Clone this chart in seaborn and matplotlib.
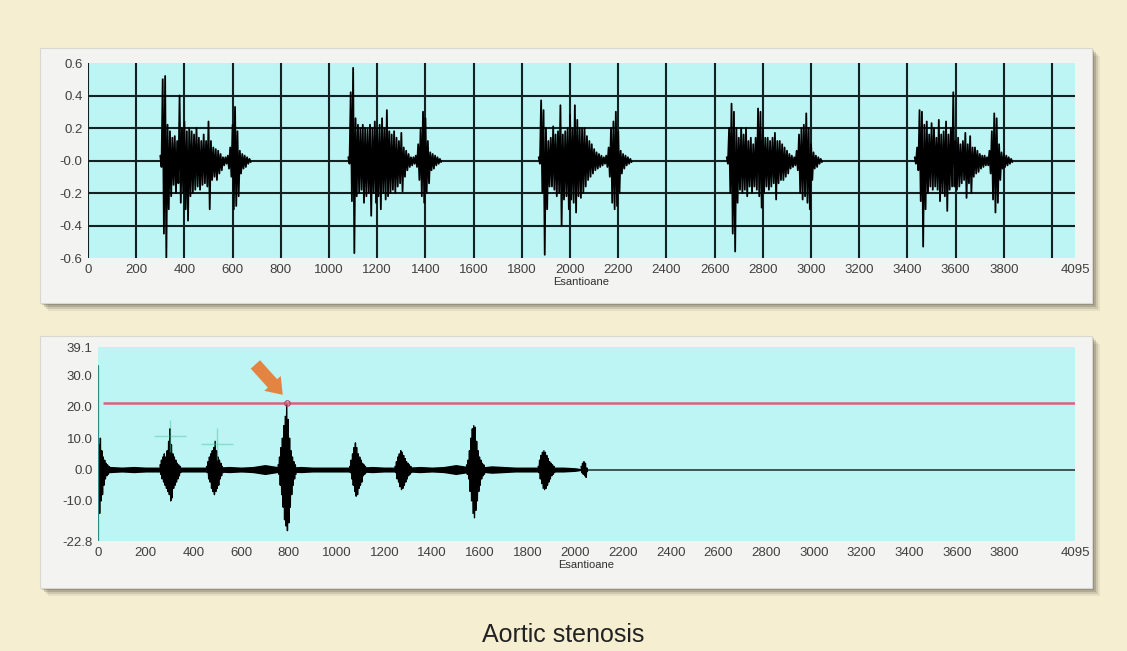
import numpy as np
import matplotlib
matplotlib.use("Agg")
import matplotlib.pyplot as plt
import seaborn as sns
from matplotlib.patches import Rectangle

# ---- top trace (phonocardiogram), excursions read every 10 samples ----
c1_start = 300
c1_hi = [0.03, 0.50, 0.52, 0.22, 0.18, 0.14, 0.15, 0.12, 0.40, 0.20, 0.24, 0.18, 0.20, 0.18, 0.16, 0.20, 0.14, 0.12, 0.16,
         0.12, 0.24, 0.12, 0.08, 0.07, 0.06, 0.04, 0.02, 0.02, 0.03, 0.08, 0.22, 0.33, 0.18, 0.06, 0.04, 0.03, 0.02, 0.01]
c1_lo = [-0.04, -0.45, -0.60, -0.30, -0.22, -0.15, -0.20, -0.14, -0.26, -0.20, -0.30, -0.37, -0.22, -0.20, -0.18, -0.16,
         -0.18, -0.15, -0.14, -0.16, -0.30, -0.12, -0.10, -0.12, -0.08, -0.06, -0.03, -0.02, -0.05, -0.10, -0.30, -0.28,
         -0.22, -0.08, -0.05, -0.04, -0.02, -0.01]

c2_start = 1080
c2_hi = [0.02, 0.42, 0.57, 0.26, 0.22, 0.20, 0.22, 0.20, 0.19, 0.22, 0.20, 0.24, 0.20, 0.22, 0.26, 0.20, 0.31, 0.18, 0.16,
         0.18, 0.14, 0.12, 0.17, 0.08, 0.06, 0.04, 0.02, 0.02, 0.03, 0.10, 0.20, 0.30, 0.26, 0.12, 0.05, 0.04, 0.03, 0.02, 0.01]
c2_lo = [-0.02, -0.25, -0.57, -0.22, -0.20, -0.18, -0.26, -0.22, -0.20, -0.34, -0.20, -0.26, -0.22, -0.30, -0.20, -0.24,
         -0.22, -0.20, -0.18, -0.20, -0.16, -0.14, -0.19, -0.10, -0.06, -0.04, -0.03, -0.02, -0.04, -0.12, -0.22, -0.26,
         -0.20, -0.14, -0.06, -0.05, -0.03, -0.02, -0.01]

c3_start = 1870
c3_hi = [0.02, 0.37, 0.31, 0.20, 0.12, 0.14, 0.21, 0.16, 0.18, 0.34, 0.16, 0.18, 0.20, 0.28, 0.20, 0.34, 0.25, 0.20, 0.20,
         0.20, 0.15, 0.12, 0.10, 0.07, 0.05, 0.04, 0.03, 0.02, 0.03, 0.08, 0.20, 0.24, 0.30, 0.18, 0.06, 0.04, 0.03, 0.02, 0.01]
c3_lo = [-0.02, -0.20, -0.58, -0.30, -0.16, -0.16, -0.18, -0.22, -0.20, -0.40, -0.24, -0.22, -0.30, -0.24, -0.26, -0.32,
         -0.22, -0.23, -0.20, -0.16, -0.12, -0.10, -0.08, -0.06, -0.05, -0.04, -0.03, -0.02, -0.04, -0.10, -0.26, -0.30,
         -0.28, -0.20, -0.08, -0.05, -0.03, -0.02, -0.01]

c4_start = 2650
c4_hi = [0.02, 0.20, 0.35, 0.30, 0.20, 0.14, 0.20, 0.16, 0.20, 0.12, 0.14, 0.10, 0.14, 0.32, 0.30, 0.20, 0.14, 0.14, 0.12,
         0.14, 0.17, 0.12, 0.12, 0.10, 0.08, 0.06, 0.04, 0.03, 0.02, 0.06, 0.16, 0.20, 0.22, 0.29, 0.20, 0.10, 0.05, 0.03,
         0.02, 0.01]
c4_lo = [-0.02, -0.20, -0.45, -0.56, -0.26, -0.18, -0.20, -0.18, -0.22, -0.16, -0.20, -0.16, -0.18, -0.22, -0.29, -0.20,
         -0.16, -0.18, -0.16, -0.14, -0.24, -0.14, -0.12, -0.12, -0.10, -0.08, -0.05, -0.04, -0.03, -0.06, -0.20, -0.24,
         -0.22, -0.26, -0.30, -0.12, -0.05, -0.04, -0.02, -0.01]

c5_start = 3430
c5_hi = [0.02, 0.08, 0.31, 0.30, 0.22, 0.24, 0.16, 0.23, 0.20, 0.14, 0.25, 0.16, 0.18, 0.24, 0.16, 0.20, 0.42, 0.12, 0.14,
         0.10, 0.12, 0.17, 0.10, 0.15, 0.08, 0.08, 0.06, 0.04, 0.03, 0.03, 0.02, 0.06, 0.18, 0.29, 0.26, 0.10, 0.05, 0.04,
         0.03, 0.02, 0.01]
c5_lo = [-0.02, -0.06, -0.25, -0.53, -0.30, -0.20, -0.16, -0.18, -0.16, -0.18, -0.25, -0.20, -0.22, -0.31, -0.18, -0.16,
         -0.16, -0.18, -0.16, -0.14, -0.12, -0.23, -0.14, -0.20, -0.10, -0.08, -0.07, -0.05, -0.04, -0.03, -0.03, -0.08,
         -0.24, -0.32, -0.26, -0.12, -0.05, -0.04, -0.03, -0.02, -0.01]

top_cycles = [(c1_start, c1_hi, c1_lo), (c2_start, c2_hi, c2_lo), (c3_start, c3_hi, c3_lo),
              (c4_start, c4_hi, c4_lo), (c5_start, c5_hi, c5_lo)]

# ---- bottom trace (energy envelope), bursts read every 6 samples ----
b_bursts = [
    (4, [8, 10, 6, 4, 3, 2, 1.5, 1], [-14, -10, -8, -5, -3, -2, -1.5, -1]),
    (260, [1.5, 3, 4, 5, 4, 6, 9, 13, 8, 5, 4, 3, 2, 1.5, 1], [-1.5, -3, -4, -5, -6, -7, -8, -10, -9, -6, -5, -4, -3, -2, -1]),
    (455, [1, 2.5, 4, 5, 6, 7, 9, 6, 4, 3, 2, 1], [-1, -3, -4, -6, -7, -8, -7, -6, -5, -3, -2, -1]),
    (755, [1.5, 4, 7, 10, 14, 17, 21.2, 16, 10, 6, 4, 2.5, 1.5], [-1.5, -5, -8, -12, -16, -18, -19.5, -17, -12, -8, -5, -3, -1.5]),
    (1055, [1, 3, 5, 7, 8.5, 7, 5, 4, 3, 2, 1.5, 1], [-1, -3, -5, -7, -8.5, -8, -6, -5, -4, -2, -1.5, -1]),
    (1245, [1, 2.5, 4, 5, 6, 5.5, 4.5, 3.5, 2.5, 2, 1.5, 1], [-1, -3, -4, -5.5, -6.4, -6, -5, -4, -3, -2, -1.5, -1]),
    (1545, [1.5, 3, 6, 10, 13, 14, 13.5, 9, 6, 4, 3, 2, 1.5], [-1.5, -3, -7, -10, -14, -15.4, -13, -10, -7, -5, -3, -2, -1.5]),
    (1845, [1, 3, 4.5, 5.5, 6, 5.5, 4.5, 3.5, 2.5, 2, 1.5, 1], [-1, -3, -4.5, -6, -6.4, -6, -5, -4, -3, -2, -1.5, -1]),
    (2025, [1, 2, 2.5, 2, 0.5], [-1, -1.5, -2, -2.5, -0.5]),
]
first_spike_x = 2
first_spike = [33.0, -22.8]
# noise floor amplitude, every 50 samples from 0 to 2050
noise_amp = [1.0, 1.0, 0.8, 1.0, 0.8, 0.8, 0.8, 0.8, 0.8, 0.8, 0.8, 1.0, 0.8, 1.0, 1.6, 1.0, 0.8, 1.0, 0.8, 0.8, 0.8,
             0.8, 0.8, 1.0, 0.8, 0.8, 0.8, 1.0, 0.8, 1.0, 1.6, 1.0, 0.8, 1.2, 1.0, 0.8, 0.8, 0.8, 0.8, 0.8, 0.6, 0.0]
threshold = 21.2
peak_x = 792
markers_x = [303, 499]
markers_y = [10.6, 8.0]

x_ticks = list(range(0, 3801, 200)) + [4095]
x_grid = list(range(0, 4001, 200))
top_yticks = [0.6, 0.4, 0.2, 0.0, -0.2, -0.4, -0.6]
top_ylabels = ["0.6", "0.4", "0.2", "-0.0", "-0.2", "-0.4", "-0.6"]
top_ygrid = [0.4, 0.2, 0.0, -0.2, -0.4]
bot_yticks = [39.1, 30.0, 20.0, 10.0, 0.0, -10.0, -22.8]
bot_ylabels = ["39.1", "30.0", "20.0", "10.0", "0.0", "-10.0", "-22.8"]


def zigzag(start, step, hi, lo):
    s = start + step * np.arange(len(hi))
    x = np.column_stack([s, s + step / 2]).ravel()
    y = np.column_stack([hi, lo]).ravel()
    return x, y


sns.set_style("white")
plt.rcParams['font.family'] = ['Liberation Sans', 'DejaVu Sans']

W, H = 1127, 651
fig = plt.figure(figsize=(W / 100, H / 100), dpi=100, facecolor='#f6eed0')


def box(x0, y0, x1, y1):
    return [x0 / W, 1 - y1 / H, (x1 - x0) / W, (y1 - y0) / H]


# panels with drop shadow
for (x0, y0, x1, y1) in [(40, 48, 1092, 303), (40, 336, 1092, 588)]:
    for k, a in [(8, 0.08), (6, 0.14), (4, 0.2), (2, 0.25)]:
        b = box(x0 + k, y0 + k, x1 + k, y1 + k)
        fig.add_artist(Rectangle((b[0], b[1]), b[2], b[3], transform=fig.transFigure,
                                 color='#3a3a30', alpha=a, lw=0, zorder=-3))
    b = box(x0, y0, x1, y1)
    fig.add_artist(Rectangle((b[0], b[1]), b[2], b[3], transform=fig.transFigure,
                             facecolor='#f3f3f1', edgecolor='#d8d8d0', lw=0.8, zorder=-2))

cyan = '#bdf4f4'
grid_c = '#102222'
tick_c = '#404040'

# ---- top axes ----
ax1 = fig.add_axes(box(88, 63, 1075, 258))
ax1.set_facecolor(cyan)
for gx in x_grid:
    ax1.axvline(gx, color=grid_c, lw=1.5, zorder=1)
for gy in top_ygrid:
    ax1.axhline(gy, color=grid_c, lw=1.5, zorder=1)
for start, hi, lo in top_cycles:
    x, y = zigzag(start, 10, hi, lo)
    sns.lineplot(x=x, y=y, ax=ax1, sort=False, estimator=None, color='black', lw=1.3, zorder=3)
ax1.set_xlim(0, 4095)
ax1.set_ylim(-0.6, 0.6)
ax1.set_xticks(x_ticks)
ax1.set_xticklabels([str(v) for v in x_ticks])
ax1.set_yticks(top_yticks)
ax1.set_yticklabels(top_ylabels)
ax1.set_xlabel("Esantioane", fontsize=8, color='#303030', labelpad=1)

# ---- bottom axes ----
ax2 = fig.add_axes(box(98, 347, 1075, 541))
ax2.set_facecolor(cyan)
ax2.axhline(0, color='#1a2a2a', lw=1.1, zorder=2)
noise_x = np.arange(0, 2051, 50)
ax2.fill_between(noise_x, -np.array(noise_amp), noise_amp, color='black', lw=0, zorder=3)
for start, hi, lo in b_bursts:
    x, y = zigzag(start, 6, hi, lo)
    sns.lineplot(x=x, y=y, ax=ax2, sort=False, estimator=None, color='black', lw=1.0, zorder=3)
ax2.plot([first_spike_x, first_spike_x], first_spike, color='#2a8a8a', lw=1.6, zorder=4)
ax2.hlines(threshold, 20, 4095, color='#e0607a', lw=1.8, zorder=4)
ax2.plot([peak_x], [threshold], marker='o', ms=4, mfc='none', mec='#b04060', mew=0.8, zorder=5)
sns.scatterplot(x=markers_x, y=markers_y, ax=ax2, marker='+', s=500, color='#50c8a0',
                alpha=0.5, linewidth=1.0, zorder=5)
ax2.annotate('', xy=(peak_x - 10, threshold + 2.0), xytext=(peak_x - 140, threshold + 13),
             arrowprops=dict(arrowstyle='simple,head_width=1.6,head_length=1.1,tail_width=0.9',
                             color='#e8782e', alpha=0.9, lw=0), zorder=6)
ax2.set_xlim(0, 4095)
ax2.set_ylim(-22.8, 39.1)
ax2.set_xticks(x_ticks)
ax2.set_xticklabels([str(v) for v in x_ticks])
ax2.set_yticks(bot_yticks)
ax2.set_yticklabels(bot_ylabels)
ax2.set_xlabel("Esantioane", fontsize=8, color='#303030', labelpad=1)

for ax in (ax1, ax2):
    for sp in ax.spines.values():
        sp.set_visible(False)
    ax.tick_params(axis='both', labelsize=9.5, colors=tick_c, length=3, width=0.8, pad=1)
    ax.set_ylabel("")

fig.text(0.4996, 1 - 635 / H, "Aortic stenosis", ha='center', va='center', fontsize=18, color='#222222')

fig.savefig("out.png", dpi=100, facecolor=fig.get_facecolor())
